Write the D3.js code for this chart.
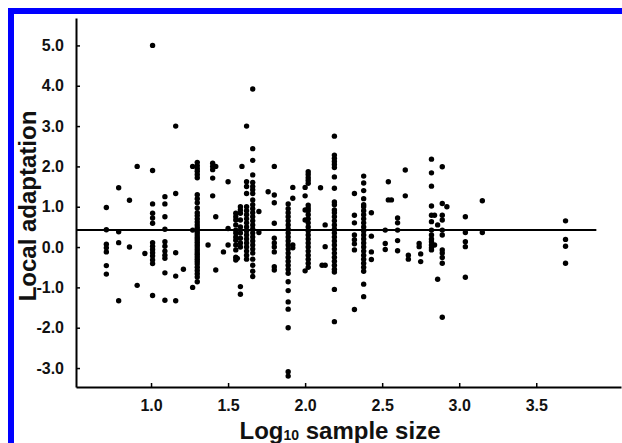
<!DOCTYPE html>
<html>
<head>
<meta charset="utf-8">
<script src="https://cdn.jsdelivr.net/npm/d3@7"></script>
<style>
html,body{margin:0;background:#fff;overflow:hidden;}
svg{display:block;}
text{font-family:"Liberation Sans",Arial,sans-serif;font-weight:bold;}
</style>
</head>
<body>
<div id="chart"></div>
<script>
// log10 sample size of each study column
const logN = [0.71,0.79,0.86,0.91,0.96,1.01,1.09,1.16,1.21,1.27,1.30,1.37,1.40,1.42,1.47,1.50,
  1.55,1.56,1.58,1.59,1.62,1.66,1.70,1.76,1.80,1.89,1.92,2.00,2.02,2.10,2.11,2.13,2.19,
  2.32,2.38,2.43,2.52,2.54,2.56,2.60,2.65,2.67,2.74,2.75,2.82,2.84,2.86,2.89,2.92,3.04,3.15,3.69];

// local adaptation values at each column
const adapt = [
  [0.98,0.43,0.07,-0.02,-0.12,-0.46,-0.67],
  [1.47,0.38,0.11,-1.33],
  [1.16,0.0],
  [2.0,-0.95],
  [-0.16],
  [5.0,1.90,1.07,0.84,0.72,0.59,0.11,0.02,-0.06,-0.14,-0.22,-0.32,-0.41,-1.2],
  [1.25,1.07,0.75,0.44,0.13,0.02,-0.1,-0.2,-0.28,-0.64,-1.32],
  [3.0,1.33,-0.14,-0.72,-1.33],
  [-0.55],
  [2.0,0.42,-1.0],
  [2.1,2.02,1.95,1.88,1.8,1.72,1.3,1.2,1.1,0.97,0.85,0.78,0.7,0.62,0.55,0.48,0.42,0.36,0.3,0.24,0.18,0.12,0.06,0.0,
   -0.06,-0.12,-0.18,-0.24,-0.3,-0.36,-0.42,-0.5,-0.58,-0.66,-0.74,-0.86],
  [0.05],
  [2.08,2.0,1.92,1.71,1.27],
  [2.0,0.75,-0.57],
  [-0.12],
  [1.62,0.46,0.05],
  [0.84,0.75,0.67,0.55,0.42,0.35,0.25,0.17,0.05,-0.07,-0.25,-0.32],
  [-0.28],
  [1.0,0.92,0.84,0.67,0.5,0.35,0.22,0.1,0.0,-0.98,-1.17],
  [2.0],
  [3.0,1.62,1.5,1.33,1.0,0.9,0.8,0.7,0.6,0.5,0.4,0.3,0.2,0.1,0.0,-0.1,-0.2,-0.3],
  [3.92,2.44,2.15,1.79,1.6,1.5,1.42,1.33,1.17,1.05,0.95,0.85,0.75,0.65,0.55,0.45,0.35,0.25,0.15,0.05,
   -0.05,-0.15,-0.3,-0.45,-0.6,-0.73],
  [0.88,0.36],
  [1.37],
  [2.0,1.29,1.1,0.59,0.22,0.1,0.0,-0.12,-0.49,-0.57],
  [1.07,0.95,0.85,0.75,0.65,0.55,0.45,0.35,0.25,0.15,0.05,-0.05,-0.15,-0.25,-0.35,-0.45,-0.55,-0.65,
   -0.86,-1.08,-1.36,-1.54,-2.0,-3.09,-3.2],
  [1.48,1.21,0.05,-0.02],
  [1.48,1.27,0.92,0.67,-0.59],
  [1.87,1.8,1.72,1.65,1.58,1.04,0.97,0.9,0.8,0.7,0.6,0.5,0.4,0.3,0.2,0.1,0.0,-0.1,-0.2,-0.3,-0.4,-0.5],
  [1.47],
  [-0.45],
  [0.55,0.01,-0.45],
  [2.75,2.28,2.2,2.12,2.05,1.97,1.74,1.46,1.12,1.05,0.92,0.85,0.75,0.65,0.55,0.45,0.35,0.25,0.15,0.05,
   -0.05,-0.15,-0.25,-0.35,-0.45,-0.55,-0.62,-1.05,-1.85],
  [1.33,0.79,0.6,0.3,0.18,0.08,-0.07,-1.55],
  [1.76,1.59,1.4,1.2,1.05,1.0,0.9,0.8,0.7,0.6,0.5,0.4,0.3,0.2,0.1,0.0,-0.1,-0.2,-0.3,-0.4,-0.5,-0.6,-0.92,-1.23],
  [0.85,0.27,-0.12,-0.31],
  [0.42,0.09,-0.06],
  [1.62,1.17],
  [1.17],
  [0.72,0.6,0.42,0.16,-0.09],
  [1.91,1.27],
  [-0.2,-0.3],
  [0.09,0.01],
  [-0.17,-0.36],
  [2.18,1.84,1.51,1.02,0.79,0.63,0.42,0.3,0.2,0.13,0.05,-0.02,-0.07],
  [0.79,0.05],
  [0.55,-0.8],
  [1.99,1.08,0.79,0.67,0.42,0.3,-0.07,-0.15,-0.26,-0.4,-1.74],
  [1.0],
  [0.75,0.36,0.13,0.01,-0.75],
  [1.15,0.36],
  [0.65,0.19,0.02,-0.4]
];

const meanLine = 0.42;
const meanEnd = 3.89;
const xTicks = [1.0,1.5,2.0,2.5,3.0,3.5];
const yTicks = [-3,-2,-1,0,1,2,3,4,5];

const data = [];
logN.forEach(function(n,i){
  adapt[i].forEach(function(v){ data.push({n:n, v:v}); });
});

const W = 622, H = 443;
const margin = {top:18, left:76, right:1, bottom:56};
const width = W - margin.left - margin.right;
const height = H - margin.top - margin.bottom;

const svg = d3.select("#chart").append("svg")
    .attr("width", W).attr("height", H);

// blue frame: only the top and left edges are in the picture
svg.append("path")
    .attr("d", "M11," + H + "V11H" + W)
    .style("fill", "none")
    .style("stroke", "#0000ff")
    .style("stroke-width", 6);

const g = svg.append("g")
    .attr("transform", "translate(" + margin.left + "," + margin.top + ")");

const x = d3.scaleLinear()
    .domain([0.513, 4.05])
    .range([0, width]);

const y = d3.scaleLinear()
    .domain([-3.47, 5.68])
    .range([height, 0]);

const xAxis = g.append("g")
    .attr("transform", "translate(0," + height + ")")
    .call(d3.axisBottom(x).tickValues(xTicks).tickSizeInner(-4).tickSizeOuter(0)
        .tickPadding(13).tickFormat(function(d){ return d.toFixed(1); }));

const yAxis = g.append("g")
    .call(d3.axisLeft(y).tickValues(yTicks).tickSizeInner(-4).tickSizeOuter(0)
        .tickPadding(12).tickFormat(function(d){ return d.toFixed(1); }));

[xAxis, yAxis].forEach(function(a){
  a.attr("font-size", 16).attr("font-family", null);
  a.select(".domain").style("stroke", "#000").style("stroke-width", 2);
  a.selectAll(".tick line").style("stroke", "#000").style("stroke-width", 1.5);
  a.selectAll(".tick text")
    .style("font-weight", "bold")
    .style("font-size", "16px")
    .style("fill", "#111");
});

// mean line
g.append("line")
    .attr("x1", 0).attr("x2", x(meanEnd))
    .attr("y1", y(meanLine)).attr("y2", y(meanLine))
    .style("stroke", "#000")
    .style("stroke-width", 2);

g.selectAll("circle.pt")
    .data(data)
    .enter().append("circle")
    .attr("class", "pt")
    .attr("cx", function(d){ return x(d.n); })
    .attr("cy", function(d){ return y(d.v); })
    .attr("r", 2.7)
    .style("fill", "#000");

// axis titles
svg.append("text")
    .attr("transform", "translate(36,206) rotate(-90)")
    .attr("text-anchor", "middle")
    .style("font-size", "24px")
    .style("fill", "#111")
    .text("Local adaptation");

const xt = svg.append("text")
    .attr("x", 340).attr("y", 439)
    .attr("text-anchor", "middle")
    .style("font-size", "24px")
    .style("fill", "#111");
xt.append("tspan").text("Log");
xt.append("tspan").style("font-size", "14px").attr("dy", 1).text("10");
xt.append("tspan").attr("dy", -1).text(" sample size");
</script>
</body>
</html>
